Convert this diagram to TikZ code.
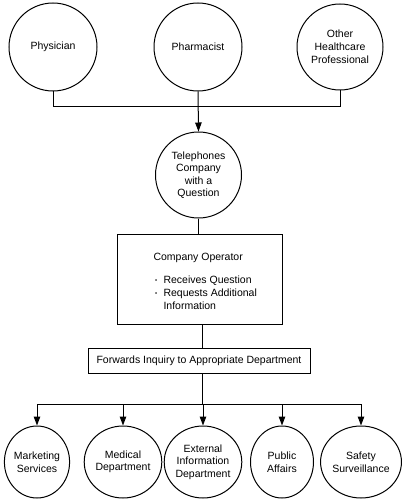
\documentclass[tikz,border=0pt]{standalone}
\usepackage{fontspec}
\setmainfont{Liberation Sans}
\usetikzlibrary{arrows.meta,shapes.geometric}
\newcommand{\mybul}{\makebox[10pt][l]{\hspace{1.5pt}\raisebox{0.3ex}{\fontsize{6}{6}\selectfont\textbullet}}}
\begin{document}
\begin{tikzpicture}[x=1pt,y=-1pt,line width=1pt,
  font=\fontsize{10.5}{13}\selectfont,
  circ/.style={draw, circle, inner sep=0pt, align=center},
  ell/.style={draw, ellipse, minimum width=63pt, minimum height=72pt, inner sep=0pt, align=center, font=\fontsize{10.5}{12.5}\selectfont},
  arr/.style={-{Triangle[length=9pt,width=6.5pt]}},
  box/.style={draw, rectangle, inner sep=0pt}]
\useasboundingbox (0,0) rectangle (402,500);
% top sources
\node[circ, minimum size=88pt] (phy) at (53,47) {Physician};
\node[circ, minimum size=88pt] (pha) at (198,47) {Pharmacist};
\node[circ, minimum size=86pt] (oth) at (340,47) {Other\\Healthcare\\Professional};
\coordinate (j) at (198,107);
\draw (phy.south) -- (phy.south |- j) -- (oth.south |- j) -- (oth.south);
\node[circ, minimum size=86pt, font=\fontsize{10.5}{12.5}\selectfont] (tel) at (198.5,175) {Telephones\\Company\\with a\\Question};
\draw[arr] (pha.south) -- (tel.north);
% operator box
\node[box, minimum width=165pt, minimum height=90pt] (op) at (199.5,279.5) {};
\node[anchor=north west, align=left, inner sep=0pt] (optext) at (153,253) {Company Operator\\[10pt]\mybul Receives Question\\\mybul Requests Additional\\\phantom{\mybul}Information};
\draw (tel.south) -- (tel.south |- op.north);
% forwards box
\node[box, minimum width=222pt, minimum height=25pt] (fw) at (199,360.5) {Forwards Inquiry to Appropriate Department};
\coordinate (jb) at (202,404);
\draw (op.south -| jb) -- (fw.north -| jb);
\draw (fw.south -| jb) -- (jb);
% departments
\node[ell] (mkt) at (37,462) {Marketing\\Services};
\node[ell] (med) at (123,462) {Medical\\Department};
\node[ell, minimum width=66pt] (ext) at (203,462) {External\\Information\\Department};
\node[ell] (pub) at (282,462) {Public\\Affairs};
\node[ell, minimum width=66pt] (saf) at (361,462) {Safety\\Surveillance};
\draw (mkt.north |- jb) -- (saf.north |- jb);
\foreach \n in {mkt,med,ext,pub,saf}{
  \draw[arr] (\n.north |- jb) -- (\n.north);
}
\end{tikzpicture}
\end{document}
